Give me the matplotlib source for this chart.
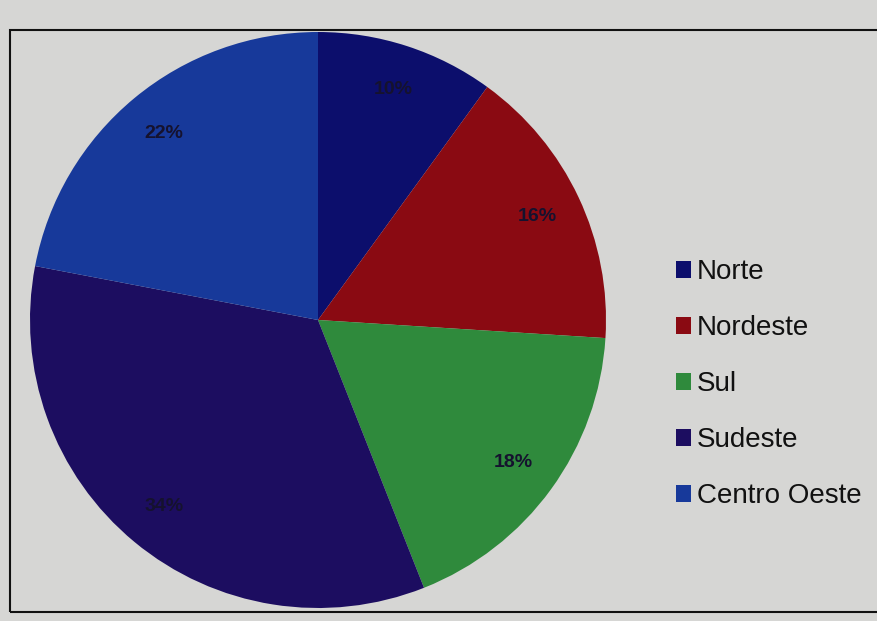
import matplotlib.pyplot as plt
from matplotlib.patches import Rectangle, Patch

# ---------------- DATA ---------------- #
regions = ["Norte", "Nordeste", "Sul", "Sudeste", "Centro Oeste"]
shares = [10, 16, 18, 34, 22]
colors = ["#0c0e6c", "#8a0a12", "#2f8a3c", "#1c0d60", "#17399a"]

plt.rcParams['font.family'] = ['Liberation Sans', 'DejaVu Sans']

W, H = 877, 621
fig = plt.figure(figsize=(W / 100, H / 100), dpi=100)
fig.patch.set_facecolor("#d6d6d4")

# chart frame
fig.patches.append(Rectangle((10 / W, 9 / H), 1.0, 582 / H, transform=fig.transFigure,
                             fill=False, edgecolor="#111111", linewidth=1.5))

# ---------------- PIE ---------------- #
cx, cy, r = 318, 320, 288
ax = fig.add_axes([(cx - r) / W, (H - cy - r) / H, 2 * r / W, 2 * r / H])
wedges, texts, autotexts = ax.pie(
    shares, colors=colors, startangle=90, counterclock=False,
    autopct="%d%%", pctdistance=0.84,
    wedgeprops=dict(linewidth=0),
    textprops=dict(color="#15122e", fontsize=14, fontweight="bold"),
)
ax.set_xlim(-1, 1)
ax.set_ylim(-1, 1)
ax.set_aspect("auto")

# ---------------- LEGEND ---------------- #
handles = [Patch(facecolor=c, edgecolor="none") for c in colors]
leg = fig.legend(handles, regions, loc="upper left", bbox_to_anchor=(665 / W, 1 - 248 / H),
                 frameon=False, fontsize=20, handlelength=0.55, handleheight=0.55,
                 handletextpad=0.2, labelspacing=1.08, borderaxespad=0)
for t in leg.get_texts():
    t.set_color("#111111")

fig.savefig("out.png", dpi=100, facecolor=fig.get_facecolor())
